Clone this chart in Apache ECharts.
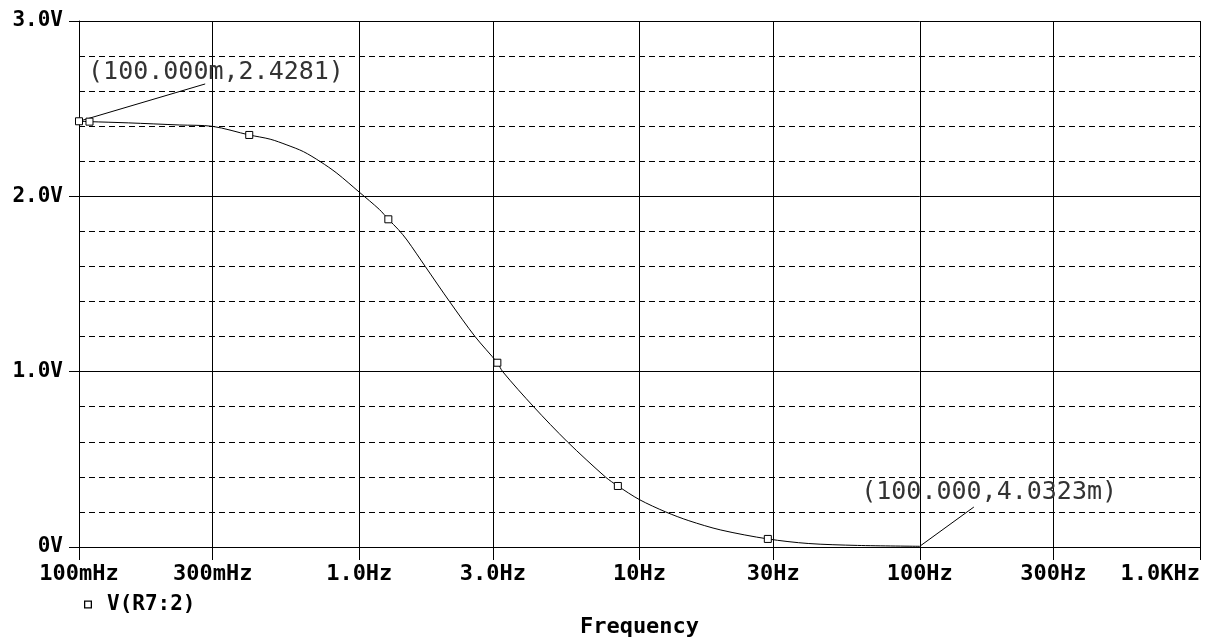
<!DOCTYPE html>
<html>
<head>
<meta charset="utf-8">
<script src="https://cdn.jsdelivr.net/npm/echarts@6/dist/echarts.min.js"></script>
<style>
html,body{margin:0;padding:0;background:#fff;}
#chart{width:1205px;height:639px;}
</style>
</head>
<body>
<div id="chart"></div>
<script>
// ---- data ----
const freqs = [0.1, 0.109, 0.15, 0.228, 0.3, 0.405, 0.481, 0.552, 0.632, 0.726, 0.832, 1.0, 1.18, 1.27, 1.38, 1.48, 1.72, 2.10, 2.59, 3.11, 3.25, 4.19, 5.53, 7.55, 8.37, 10, 12.4, 15, 19.5, 28.7, 40, 60, 100];
const volts = [2.4281, 2.426, 2.419, 2.407, 2.399, 2.350, 2.326, 2.293, 2.255, 2.198, 2.132, 2.024, 1.925, 1.869, 1.81, 1.751, 1.60, 1.40, 1.20, 1.051, 1.00, 0.80, 0.60, 0.40, 0.348, 0.270, 0.200, 0.150, 0.097, 0.046, 0.020, 0.009, 0.0040323];
const markerFreqs = [0.1, 0.109, 0.405, 1.27, 3.11, 8.37, 28.7];
const xTickValues = [0.1, 0.3, 1, 3, 10, 30, 100, 300, 1000];
const xTickLabels = ['100mHz', '300mHz', '1.0Hz', '3.0Hz', '10Hz', '30Hz', '100Hz', '300Hz', '1.0KHz'];
const yTickValues = [0, 1, 2, 3];
const yTickLabels = ['0V', '1.0V', '2.0V', '3.0V'];
const seriesName = 'V(R7:2)';
const xAxisTitle = 'Frequency';
const annotations = [
  { text: '(100.000m,2.4281)', point: [0.1, 2.4281], elbow: [0.282, 2.641], textAt: [0.1077, 2.704] },
  { text: '(100.000,4.0323m)', point: [100, 0.0040323], elbow: [156, 0.228], textAt: [61.8, 0.308] }
];

const monoFont = '"DejaVu Sans Mono", "Liberation Mono", monospace';

const seriesData = freqs.map((f, i) => {
  const isMarker = markerFreqs.indexOf(f) >= 0;
  return isMarker
    ? { value: [f, volts[i]], symbol: 'rect', symbolSize: 7 }
    : { value: [f, volts[i]], symbol: 'none' };
});

function lookup(vals, labels, v) {
  for (let i = 0; i < vals.length; i++) {
    if (Math.abs(vals[i] - v) < 1e-6 * Math.max(1, Math.abs(vals[i]))) return labels[i];
  }
  return '';
}

const chart = echarts.init(document.getElementById('chart'), null, { renderer: 'canvas' });
chart.setOption({
  animation: false,
  backgroundColor: '#fff',
  grid: { left: 79, right: 5, top: 21, bottom: 92, containLabel: false, outerBoundsMode: 'none' },
  legend: {
    show: true,
    data: [seriesName],
    left: 79, top: 589,
    icon: 'path://M0,0H10V10H0ZM1.6,1.6V8.4H8.4V1.6Z',
    itemWidth: 8, itemHeight: 8, itemGap: 10,
    itemStyle: { color: '#000', borderWidth: 0 },
    textStyle: { fontFamily: monoFont, fontWeight: 'bold', fontSize: 21, color: '#000', padding: [0, 0, 0, 10] }
  },
  xAxis: {
    type: 'log', logBase: 10, min: 0.1, max: 1000,
    name: xAxisTitle, nameLocation: 'middle', nameGap: 69,
    nameTextStyle: { fontFamily: monoFont, fontWeight: 'bold', fontSize: 22, color: '#000' },
    axisLine: { show: true, lineStyle: { color: '#000', width: 1 } },
    axisTick: { show: true, inside: false, length: 13, customValues: xTickValues, lineStyle: { color: '#000', width: 1 } },
    axisLabel: {
      show: true, customValues: xTickValues, margin: 16, alignMaxLabel: 'right',
      fontFamily: monoFont, fontWeight: 'bold', fontSize: 22, color: '#000',
      formatter: v => lookup(xTickValues, xTickLabels, v)
    },
    splitLine: { show: true, lineStyle: { color: '#000', width: 1, type: 'solid' } },
    minorTick: { show: false },
    minorSplitLine: { show: false }
  },
  yAxis: {
    type: 'value', min: 0, max: 3, interval: 1,
    axisLine: { show: true, lineStyle: { color: '#000', width: 1 } },
    axisTick: { show: true, inside: false, length: 10, lineStyle: { color: '#000', width: 1 } },
    axisLabel: {
      show: true, margin: 16, padding: [5, 0, 0, 0],
      fontFamily: monoFont, fontWeight: 'bold', fontSize: 21, color: '#000',
      formatter: v => lookup(yTickValues, yTickLabels, v)
    },
    splitLine: { show: true, lineStyle: { color: '#000', width: 1, type: 'solid' } },
    minorTick: { show: false, splitNumber: 5 },
    minorSplitLine: { show: true, lineStyle: { color: '#000', width: 1, type: [6, 4] } }
  },
  series: [{
    name: seriesName,
    type: 'line',
    data: seriesData,
    smooth: 0.3,
    symbol: 'none',
    showSymbol: true,
    itemStyle: { color: '#fff', borderColor: '#000', borderWidth: 1 },
    lineStyle: { color: '#000', width: 1 },
    emphasis: { disabled: true },
    z: 5,
    markLine: {
      silent: true, symbol: ['none', 'none'],
      lineStyle: { color: '#000', width: 1, type: 'solid' },
      label: { show: false },
      data: annotations.map(a => [{ coord: a.point }, { coord: a.elbow }])
    },
    markPoint: {
      silent: true, symbol: 'circle', symbolSize: 0,
      itemStyle: { color: 'transparent' },
      label: {
        show: true, position: 'right', distance: 0,
        fontFamily: '"DejaVu Sans Mono", monospace', fontSize: 25, color: '#333'
      },
      data: annotations.map(a => ({ coord: a.textAt, value: a.text, label: { formatter: a.text } }))
    }
  }]
});
</script>
</body>
</html>
